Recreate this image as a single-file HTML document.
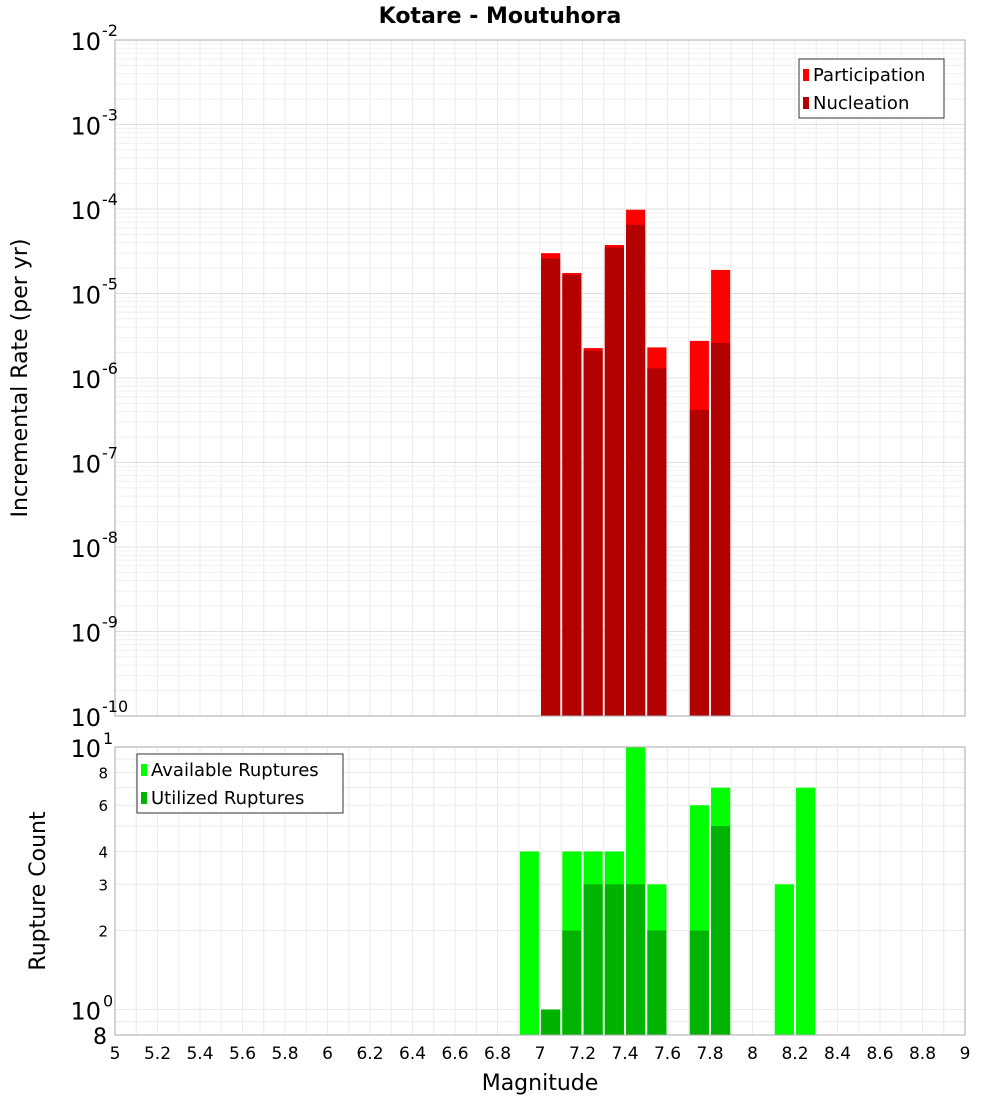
<!DOCTYPE html>
<html><head><meta charset="utf-8"><style>
body{margin:0;background:#fff;font-family:"DejaVu Sans","Liberation Sans",sans-serif}
svg text{font-family:"DejaVu Sans","Liberation Sans",sans-serif}
</style></head><body>
<svg id="c" width="1000" height="1100" xmlns="http://www.w3.org/2000/svg">
<text x="500" y="23" text-anchor="middle" font-size="22" font-weight="bold">Kotare - Moutuhora</text>
<g id="top"></g>
<g id="bot"></g>
<text transform="translate(27,378) rotate(-90)" text-anchor="middle" font-size="22">Incremental Rate (per yr)</text>
<text transform="translate(45,891) rotate(-90)" text-anchor="middle" font-size="22">Rupture Count</text>
<text x="540" y="1090" text-anchor="middle" font-size="22">Magnitude</text>
</svg>
<script>
const mags=[7.05,7.15,7.25,7.35,7.45,7.55,7.75,7.85];
const participation=[3.0e-5,1.75e-5,2.26e-6,3.75e-5,9.8e-5,2.3e-6,2.75e-6,1.9e-5];
const nucleation=[2.6e-5,1.65e-5,2.1e-6,3.5e-5,6.5e-5,1.3e-6,4.2e-7,2.6e-6];
const countMags=[6.95,7.05,7.15,7.25,7.35,7.45,7.55,7.75,7.85,8.15,8.25];
const available=[4,1,4,4,4,10,3,6,7,3,7];
const utilized=[0,1,2,3,3,3,2,2,5,0,0];
const xTicks=[5,5.2,5.4,5.6,5.8,6,6.2,6.4,6.6,6.8,7,7.2,7.4,7.6,7.8,8,8.2,8.4,8.6,8.8,9];
const rateExps=[-2,-3,-4,-5,-6,-7,-8,-9,-10];
const countTicks=[8,6,4,3,2];

const NS="http://www.w3.org/2000/svg";
const X0=115,X1=965;
const x=m=>X0+(m-5)/4*(X1-X0);
const T0=40,T1=716,B0=747,B1=1035;
const yT=v=>T0+(-2-Math.log10(v))/8*(T1-T0);
const yB=v=>B0+(1-Math.log10(v))/(1-Math.log10(0.8))*(B1-B0);
function mk(p,tag,a,txt){const e=document.createElementNS(NS,tag);for(const k in a)e.setAttribute(k,a[k]);if(txt!==undefined)e.textContent=txt;p.appendChild(e);return e;}
const gTop=document.getElementById('top'),gBot=document.getElementById('bot');
mk(gTop,'rect',{x:X0,y:T0,width:X1-X0,height:T1-T0,fill:'#fff'});
mk(gBot,'rect',{x:X0,y:B0,width:X1-X0,height:B1-B0,fill:'#fff'});
for(let i=0;i<=40;i++){const gx=x(5+i*0.1);
 let g=mk(gTop,'line',{x1:gx,x2:gx,y1:T0,y2:T1,stroke:'#ebebeb'});
 
 
 g=mk(gBot,'line',{x1:gx,x2:gx,y1:B0,y2:B1,stroke:'#ebebeb'});
 
 }
for(let e=-10;e<-2;e++)for(let k=1;k<10;k++){const gy=yT(k*Math.pow(10,e));
 const g=mk(gTop,'line',{x1:X0,x2:X1,y1:gy,y2:gy,stroke:k==1?'#e0e0e0':'#f0f0f0'});
 
 }
[0.8,0.9,1,2,3,4,5,6,7,8,9,10].forEach(v=>{const gy=yB(v);
 const g=mk(gBot,'line',{x1:X0,x2:X1,y1:gy,y2:gy,stroke:'#ebebeb'});
 
 });
const bw=x(5.09)-x(5);
mags.forEach((m,i)=>{
 let r=mk(gTop,'rect',{x:x(m)-bw/2,y:yT(participation[i]),width:bw,height:T1-yT(participation[i]),fill:'#ff0000'});
 
 
 r=mk(gTop,'rect',{x:x(m)-bw/2,y:yT(nucleation[i]),width:bw,height:T1-yT(nucleation[i]),fill:'#b30000'});
 
 
});
countMags.forEach((m,i)=>{
 let r=mk(gBot,'rect',{x:x(m)-bw/2,y:yB(available[i]),width:bw,height:B1-yB(available[i]),fill:'#00ff00'});
 
 
 if(utilized[i]>0){r=mk(gBot,'rect',{x:x(m)-bw/2,y:yB(utilized[i]),width:bw,height:B1-yB(utilized[i]),fill:'#00b300'});
 
 }
});
mk(gTop,'rect',{x:X0,y:T0,width:X1-X0,height:T1-T0,fill:'none',stroke:'#aaa'});
mk(gBot,'rect',{x:X0,y:B0,width:X1-X0,height:B1-B0,fill:'none',stroke:'#aaa'});
xTicks.forEach(t=>{const l=mk(gBot,'text',{x:x(t),y:1059,'text-anchor':'middle','font-size':17},String(t));
 
 });
rateExps.forEach(e=>{const gy=yT(Math.pow(10,e));
 const l=mk(gTop,'text',{x:101,y:gy+10,'text-anchor':'end','font-size':24},'10');
 
 
 mk(gTop,'text',{x:102,y:gy-4,'font-size':16},String(e));});
[[10,'1'],[1,'0']].forEach(([v,e])=>{const gy=yB(v);
 const l=mk(gBot,'text',{x:101,y:gy+10,'text-anchor':'end','font-size':24},'10');
 
 
 mk(gBot,'text',{x:103,y:gy-3,'font-size':16},e);});
countTicks.forEach(v=>{const gy=yB(v);
 const l=mk(gBot,'text',{x:108,y:gy+6,'text-anchor':'end','font-size':15},String(v));
 
 });
{const l=mk(gBot,'text',{x:107,y:1044,'text-anchor':'end','font-size':22},'8');
 
 }
function legend(p,lx,ly,w,items,name){const g=mk(p,'g',{});
 
 
 mk(g,'rect',{x:lx,y:ly,width:w,height:59,fill:'#fff',stroke:'#333'});
 items.forEach(([c,t],i)=>{mk(g,'rect',{x:lx+4,y:ly+10+i*28,width:6,height:12,fill:c});
  const e=mk(g,'text',{x:lx+14,y:ly+22+i*28,'font-size':18},t);
  
  });}
legend(gTop,799,59,145,[['#ff0000','Participation'],['#b30000','Nucleation']],'rate-legend');
legend(gBot,137,754,206,[['#00ff00','Available Ruptures'],['#00b300','Utilized Ruptures']],'count-legend');
</script>
</body></html>
